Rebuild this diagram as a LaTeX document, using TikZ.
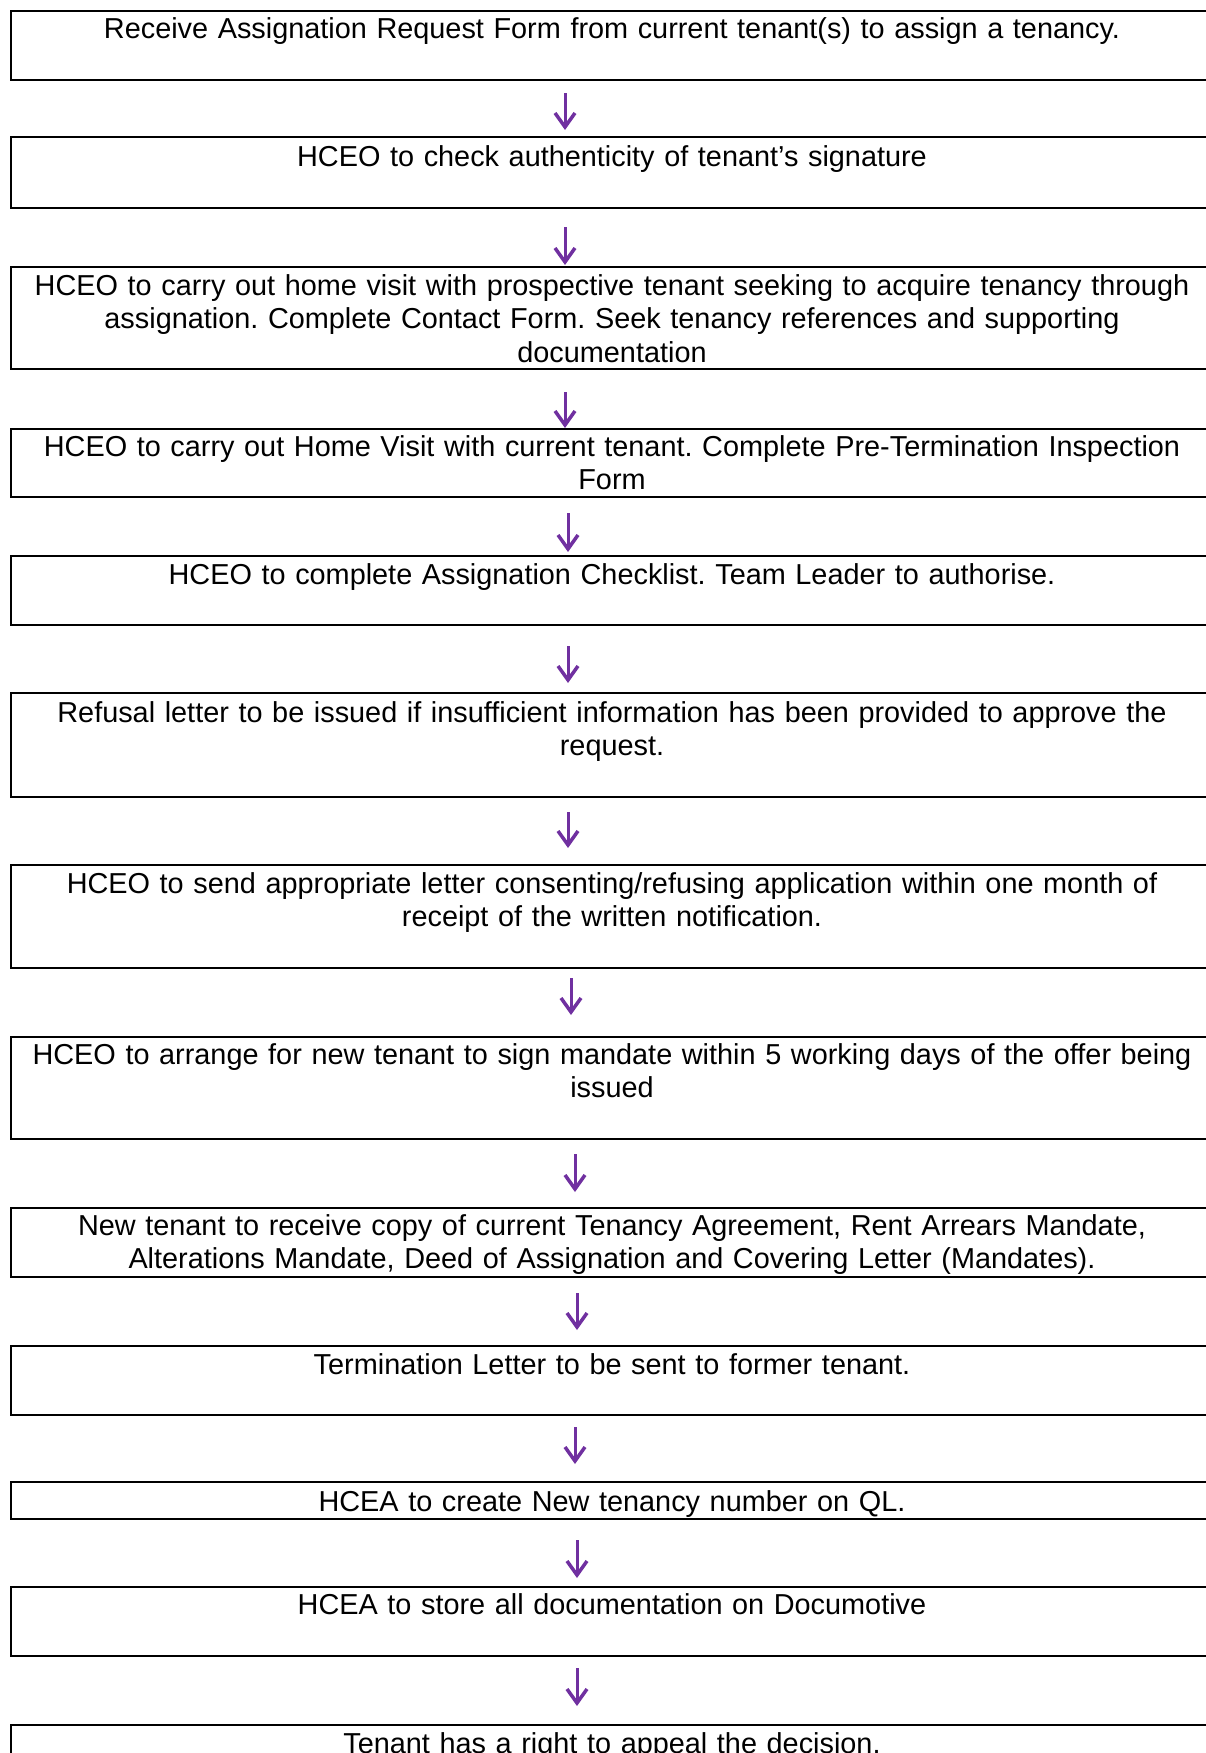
\documentclass[tikz,border=0pt]{standalone}
\usepackage{fontspec}
\setmainfont{Liberation Sans}
\usetikzlibrary{arrows.meta}
\definecolor{arrowpurple}{HTML}{7030A0}
\frenchspacing
\begin{document}
\begin{tikzpicture}[x=1pt,y=-1pt,
  box/.style={draw=black,line width=2pt,minimum width=1203pt,inner sep=0pt,outer sep=0pt,anchor=north west},
  txt/.style={font=\frenchspacing\fontsize{28.85}{33.5}\selectfont,text width=1190pt,align=center,inner sep=0pt,anchor=base},
  arr/.style={draw=arrowpurple,line width=3pt,-{Straight Barb[length=14pt,width=20pt,line width=3.5pt]}}]
\useasboundingbox (0,0) rectangle (1206,1753);
% boxes
\node[box,minimum height=69pt]  (b1)  at (11,11)   {};
\node[box,minimum height=71pt]  (b2)  at (11,137)  {};
\node[box,minimum height=102pt] (b3)  at (11,267)  {};
\node[box,minimum height=68pt]  (b4)  at (11,429)  {};
\node[box,minimum height=69pt]  (b5)  at (11,556)  {};
\node[box,minimum height=104pt] (b6)  at (11,693)  {};
\node[box,minimum height=103pt] (b7)  at (11,865)  {};
\node[box,minimum height=102pt] (b8)  at (11,1037) {};
\node[box,minimum height=69pt]  (b9)  at (11,1208) {};
\node[box,minimum height=69pt]  (b10) at (11,1346) {};
\node[box,minimum height=37pt]  (b11) at (11,1482) {};
\node[box,minimum height=69pt]  (b12) at (11,1587) {};
\node[box,minimum height=80pt]  (b13) at (11,1725) {};
% texts
\node[txt] (t1)  at (612,39)   {Receive Assignation Request Form from current tenant(s) to assign a tenancy.};
\node[txt] (t2)  at (612,166)  {HCEO to check authenticity of tenant’s signature};
\node[txt] (t3)  at (612,295)  {HCEO to carry out home visit with prospective tenant seeking to acquire tenancy through\\assignation. Complete Contact Form. Seek tenancy references and supporting\\documentation};
\node[txt] (t4)  at (612,456)  {HCEO to carry out Home Visit with current tenant. Complete Pre-Termination Inspection\\Form};
\node[txt] (t5)  at (612,584)  {HCEO to complete Assignation Checklist. Team Leader to authorise.};
\node[txt] (t6)  at (612,722)  {Refusal letter to be issued if insufficient information has been provided to approve the\\request.};
\node[txt] (t7)  at (612,893)  {HCEO to send appropriate letter consenting/refusing application within one month of\\receipt of the written notification.};
\node[txt] (t8)  at (612,1064) {HCEO to arrange for new tenant to sign mandate within 5 working days of the offer being\\issued};
\node[txt] (t9)  at (612,1235) {New tenant to receive copy of current Tenancy Agreement, Rent Arrears Mandate,\\Alterations Mandate, Deed of Assignation and Covering Letter (Mandates).};
\node[txt] (t10) at (612,1374) {Termination Letter to be sent to former tenant.};
\node[txt] (t11) at (612,1511) {HCEA to create New tenancy number on QL.};
\node[txt] (t12) at (612,1614) {HCEA to store all documentation on Documotive};
\node[txt] (t13) at (612,1753) {Tenant has a right to appeal the decision.};
% arrows
\draw[arr] ([shift={(-47.5,13)}]b1.south)  -- ([shift={(-47.5,-7)}]b2.north);
\draw[arr] ([shift={(-47.5,19)}]b2.south)  -- ([shift={(-47.5,-2)}]b3.north);
\draw[arr] ([shift={(-47.5,23)}]b3.south)  -- ([shift={(-47.5,-1)}]b4.north);
\draw[arr] ([shift={(-44.5,16)}]b4.south)  -- ([shift={(-44.5,-4)}]b5.north);
\draw[arr] ([shift={(-44.5,21)}]b5.south)  -- ([shift={(-44.5,-10)}]b6.north);
\draw[arr] ([shift={(-44.5,15)}]b6.south)  -- ([shift={(-44.5,-17)}]b7.north);
\draw[arr] ([shift={(-41.5,10)}]b7.south)  -- ([shift={(-41.5,-22)}]b8.north);
\draw[arr] ([shift={(-37.5,15)}]b8.south)  -- ([shift={(-37.5,-16)}]b9.north);
\draw[arr] ([shift={(-35.5,16)}]b9.south)  -- ([shift={(-35.5,-16)}]b10.north);
\draw[arr] ([shift={(-37.5,12)}]b10.south) -- ([shift={(-37.5,-18)}]b11.north);
\draw[arr] ([shift={(-35.5,21)}]b11.south) -- ([shift={(-35.5,-9)}]b12.north);
\draw[arr] ([shift={(-35.5,12)}]b12.south) -- ([shift={(-35.5,-19)}]b13.north);
\end{tikzpicture}
\end{document}
